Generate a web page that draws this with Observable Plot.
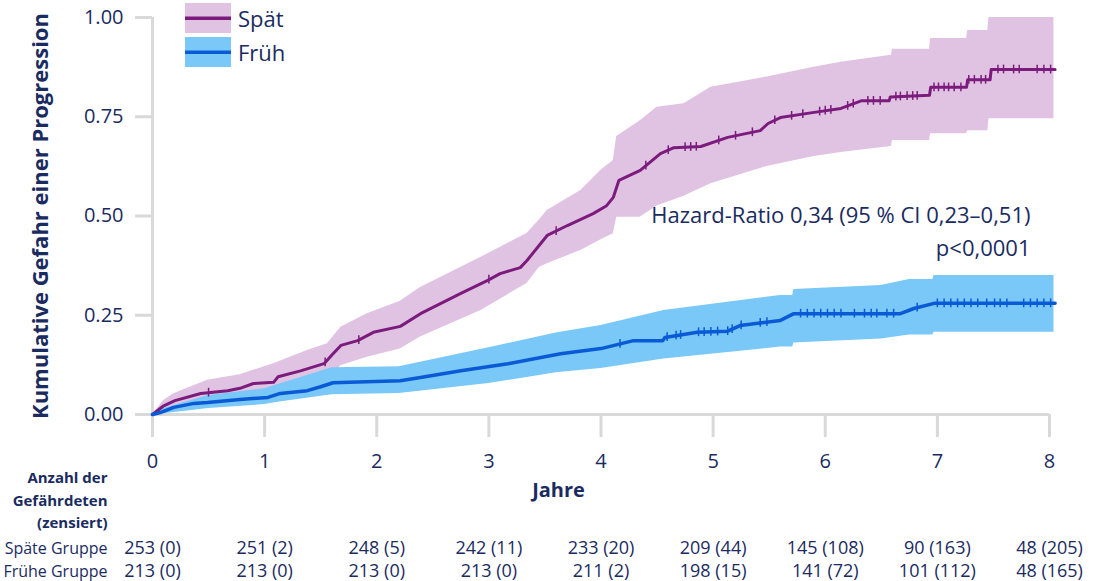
<!DOCTYPE html>
<html>
<head>
<meta charset="utf-8">
<script src="https://cdn.jsdelivr.net/npm/d3@7"></script>
<script src="https://cdn.jsdelivr.net/npm/@observablehq/plot@0.6"></script>
<style>
  body { margin: 0; background: #fff; }
  #wrap { position: relative; width: 1097px; height: 581px; overflow: hidden; }
  #legend { position: absolute; left: 185px; top: 3px; font-family: "Open Sans", sans-serif; font-size: 22px; color: #1a2b5f; }
  .item { display: flex; align-items: center; height: 30px; margin-bottom: 4px; }
  .item svg { margin-right: 7px; display: block; }
</style>
</head>
<body>
<div id="wrap"><div id="legend"></div></div>
<script>
// ---- data ----
const years = [0, 1, 2, 3, 4, 5, 6, 7, 8];
const yTicks = [0, 0.25, 0.5, 0.75, 1];

// Späte Gruppe: cumulative hazard (corner points of the fine staircase)
const spaetT = [0, 0.1, 0.2, 0.43, 0.67, 0.78, 0.9, 1.08, 1.12, 1.32, 1.53, 1.6, 1.68, 1.83, 1.97, 2.21, 2.39, 2.75, 2.99, 3.1, 3.28, 3.34, 3.52, 3.7, 3.93, 4.05, 4.11, 4.16, 4.35, 4.53, 4.65, 4.89, 5.13, 5.42, 5.49, 5.6, 5.9, 6.14, 6.32, 6.57, 6.58, 6.93, 6.94, 7.26, 7.27, 7.47, 7.48, 8.05];
const spaetV = [0, 0.022, 0.035, 0.053, 0.06, 0.066, 0.078, 0.081, 0.095, 0.11, 0.128, 0.15, 0.174, 0.186, 0.207, 0.222, 0.254, 0.305, 0.338, 0.355, 0.37, 0.388, 0.451, 0.476, 0.506, 0.526, 0.547, 0.59, 0.615, 0.657, 0.672, 0.675, 0.698, 0.715, 0.733, 0.748, 0.761, 0.771, 0.79, 0.79, 0.8, 0.804, 0.824, 0.824, 0.843, 0.843, 0.869, 0.869];
// Späte Gruppe: 95% band
const spaetBandT = [0, 0.1, 0.19, 0.49, 0.78, 1.08, 1.38, 1.56, 1.68, 1.915, 2.21, 2.39, 2.93, 3.34, 3.45, 3.52, 3.82, 4.0, 4.11, 4.14, 4.35, 4.5, 4.74, 4.98, 5.48, 5.9, 6.14, 6.59, 6.6, 6.93, 6.94, 7.26, 7.27, 7.45, 7.46, 8.04];
const spaetLo =    [0, 0.005, 0.014, 0.027, 0.04, 0.06, 0.069, 0.086, 0.123, 0.144, 0.165, 0.195, 0.262, 0.33, 0.37, 0.38, 0.413, 0.44, 0.455, 0.497, 0.497, 0.525, 0.55, 0.581, 0.625, 0.65, 0.66, 0.675, 0.69, 0.69, 0.707, 0.707, 0.715, 0.715, 0.745, 0.745];
const spaetHi =    [0, 0.035, 0.052, 0.086, 0.1, 0.128, 0.161, 0.178, 0.22, 0.254, 0.285, 0.32, 0.396, 0.456, 0.49, 0.514, 0.564, 0.615, 0.64, 0.7, 0.74, 0.774, 0.783, 0.824, 0.85, 0.875, 0.887, 0.905, 0.92, 0.92, 0.947, 0.947, 0.967, 0.967, 1.0, 1.0];
const spaetCensor = [0.5, 1.54, 1.84, 3.0, 3.6, 4.4, 4.6, 4.75, 4.8, 4.85, 5.05, 5.2, 5.35, 5.55, 5.7, 5.8, 5.95, 6.0, 6.05, 6.2, 6.25, 6.38, 6.43, 6.49, 6.63, 6.67, 6.73, 6.78, 6.82, 6.97, 7.01, 7.06, 7.1, 7.15, 7.21, 7.28, 7.33, 7.39, 7.43, 7.54, 7.59, 7.68, 7.73, 7.89, 7.95, 8.01];

// Frühe Gruppe
const fruehT = [0, 0.07, 0.19, 0.37, 0.49, 0.78, 1.03, 1.14, 1.38, 1.5, 1.61, 2.21, 2.39, 2.75, 3.17, 3.64, 4.0, 4.29, 4.55, 4.57, 4.86, 5.13, 5.24, 5.6, 5.72, 6.67, 6.79, 6.97, 8.05];
const fruehV = [0, 0.005, 0.018, 0.028, 0.03, 0.038, 0.043, 0.053, 0.06, 0.07, 0.08, 0.085, 0.093, 0.11, 0.128, 0.153, 0.166, 0.186, 0.186, 0.194, 0.207, 0.21, 0.224, 0.237, 0.254, 0.254, 0.267, 0.28, 0.28];
const fruehBandT = [0, 0.1, 0.5, 1.0, 1.15, 1.6, 2.2, 3.0, 3.6, 4.0, 4.56, 5.2, 5.6, 5.71, 5.72, 6.5, 6.75, 6.96, 6.97, 8.04];
const fruehLo =    [0, 0.002, 0.015, 0.025, 0.032, 0.05, 0.053, 0.078, 0.105, 0.116, 0.14, 0.158, 0.17, 0.17, 0.18, 0.19, 0.2, 0.2, 0.207, 0.207];
const fruehHi =    [0, 0.015, 0.048, 0.065, 0.078, 0.118, 0.12, 0.168, 0.205, 0.224, 0.262, 0.285, 0.3, 0.3, 0.315, 0.325, 0.34, 0.34, 0.35, 0.35];
const fruehCensor = [4.17, 4.59, 4.67, 4.71, 4.87, 4.92, 4.98, 5.04, 5.13, 5.17, 5.25, 5.42, 5.48, 5.78, 5.84, 5.9, 5.96, 6.02, 6.08, 6.14, 6.26, 6.35, 6.41, 6.46, 6.55, 6.61, 6.82, 7.0, 7.06, 7.12, 7.18, 7.24, 7.3, 7.36, 7.44, 7.51, 7.56, 7.62, 7.77, 7.83, 7.89, 7.95, 8.01];

// number at risk (censored)
const spaetRisk = ["253 (0)", "251 (2)", "248 (5)", "242 (11)", "233 (20)", "209 (44)", "145 (108)", "90 (163)", "48 (205)"];
const fruehRisk = ["213 (0)", "213 (0)", "213 (0)", "213 (0)", "211 (2)", "198 (15)", "141 (72)", "101 (112)", "48 (165)"];

const groupNames = ["Spät", "Früh"];
const rowLabels = ["Späte Gruppe", "Frühe Gruppe"];
const headerLines = ["Anzahl der", "Gefährdeten", "(zensiert)"];
const hazardLines = ["Hazard-Ratio 0,34 (95 % CI 0,23–0,51)", "p<0,0001"];
const yLabel = "Kumulative Gefahr einer Progression";
const xLabel = "Jahre";

// ---- styles ----
const FONT = "'Open Sans', sans-serif";
const NAVY = "#1a2b5f";
const GRID = "#d9d9d9";
const PINK = "#e0c3e3";
const SKY = "#79c8f7";
const PURPLE = "#7b1c7d";
const BLUE = "#0a5ad6";

// ---- build tables ----
const spaet = spaetT.map((t, i) => ({t, v: spaetV[i]}));
const frueh = fruehT.map((t, i) => ({t, v: fruehV[i]}));
const spaetBand = spaetBandT.map((t, i) => ({t, lo: spaetLo[i], hi: spaetHi[i]}));
const fruehBand = fruehBandT.map((t, i) => ({t, lo: fruehLo[i], hi: fruehHi[i]}));
function valueAt(series, t) {
  for (let i = 1; i < series.length; i++) {
    const a = series[i - 1], b = series[i];
    if (t <= b.t) return b.t === a.t ? b.v : a.v + (b.v - a.v) * (t - a.t) / (b.t - a.t);
  }
  return series[series.length - 1].v;
}
const spaetCens = spaetCensor.map(t => ({t, v: valueAt(spaet, t)}));
const fruehCens = fruehCensor.map(t => ({t, v: valueAt(frueh, t)}));
const riskS = years.map((y, i) => ({year: y, label: spaetRisk[i]}));
const riskF = years.map((y, i) => ({year: y, label: fruehRisk[i]}));

const headerMarks = headerLines.map((line, i) =>
  Plot.text([line], {frameAnchor: "bottom-left", dx: -45, dy: 64 + i * 22.5, textAnchor: "end", lineAnchor: "middle", fontSize: 15, fontWeight: "bold", fill: NAVY})
);

const chart = Plot.plot({
  width: 1097,
  height: 581,
  marginLeft: 152,
  marginRight: 48,
  marginTop: 17,
  marginBottom: 167,
  x: {domain: [0, 8]},
  y: {domain: [0, 1]},
  style: {fontFamily: FONT, color: NAVY, background: "white", overflow: "visible"},
  marks: [
    Plot.ruleY([0], {stroke: GRID, strokeWidth: 3, insetLeft: -14}),
    Plot.ruleX([0], {stroke: GRID, strokeWidth: 3}),
    Plot.axisY({ticks: yTicks, tickFormat: d3.format(".2f"), tickSize: 17, tickPadding: 12, stroke: GRID, strokeWidth: 3, fill: NAVY, fontSize: 20, label: null}),
    Plot.axisX({ticks: years, tickFormat: d => String(d), tickSize: 23, tickPadding: 16, stroke: GRID, strokeWidth: 3, fill: NAVY, fontSize: 20, label: null}),
    Plot.areaY(spaetBand, {x: "t", y1: "lo", y2: "hi", fill: PINK}),
    Plot.areaY(fruehBand, {x: "t", y1: "lo", y2: "hi", fill: SKY}),
    Plot.line(spaet, {x: "t", y: "v", stroke: PURPLE, strokeWidth: 3}),
    Plot.line(frueh, {x: "t", y: "v", stroke: BLUE, strokeWidth: 3.5}),
    Plot.ruleX(spaetCens, {x: "t", y1: d => d.v - 0.011, y2: d => d.v + 0.011, stroke: PURPLE, strokeWidth: 1.5}),
    Plot.ruleX(fruehCens, {x: "t", y1: d => d.v - 0.011, y2: d => d.v + 0.011, stroke: BLUE, strokeWidth: 1.5}),
    Plot.text([hazardLines[0]], {frameAnchor: "top-right", dx: -19, dy: 198, textAnchor: "end", lineAnchor: "middle", fontSize: 22, fill: NAVY}),
    Plot.text([hazardLines[1]], {frameAnchor: "top-right", dx: -19, dy: 231, textAnchor: "end", lineAnchor: "middle", fontSize: 22, fill: NAVY}),
    Plot.text([yLabel], {frameAnchor: "left", dx: -112, rotate: -90, textAnchor: "middle", lineAnchor: "middle", fontSize: 22, fontWeight: "bold", fill: NAVY}),
    Plot.text([xLabel], {frameAnchor: "bottom-left", dx: 406, dy: 76, textAnchor: "middle", lineAnchor: "middle", fontSize: 20, fontWeight: "bold", fill: NAVY}),
    ...headerMarks,
    Plot.text(riskS, {x: "year", text: "label", frameAnchor: "bottom", dy: 134, lineAnchor: "middle", fontSize: 18, fill: NAVY}),
    Plot.text(riskF, {x: "year", text: "label", frameAnchor: "bottom", dy: 157, lineAnchor: "middle", fontSize: 18, fill: NAVY}),
    Plot.text([rowLabels[0]], {frameAnchor: "bottom-left", dx: -45, dy: 134, textAnchor: "end", lineAnchor: "middle", fontSize: 16, fill: NAVY}),
    Plot.text([rowLabels[1]], {frameAnchor: "bottom-left", dx: -45, dy: 157, textAnchor: "end", lineAnchor: "middle", fontSize: 16, fill: NAVY})
  ]
});
document.getElementById("wrap").prepend(chart);

// legend
const legend = document.getElementById("legend");
[[groupNames[0], PINK, PURPLE], [groupNames[1], SKY, BLUE]].forEach(([name, band, line]) => {
  const div = document.createElement("div");
  div.className = "item";
  div.innerHTML = `<svg width="46" height="30"><rect width="46" height="30" fill="${band}"/><rect y="13.5" width="46" height="3.5" fill="${line}"/></svg><span>${name}</span>`;
  legend.appendChild(div);
});
</script>
</body>
</html>
